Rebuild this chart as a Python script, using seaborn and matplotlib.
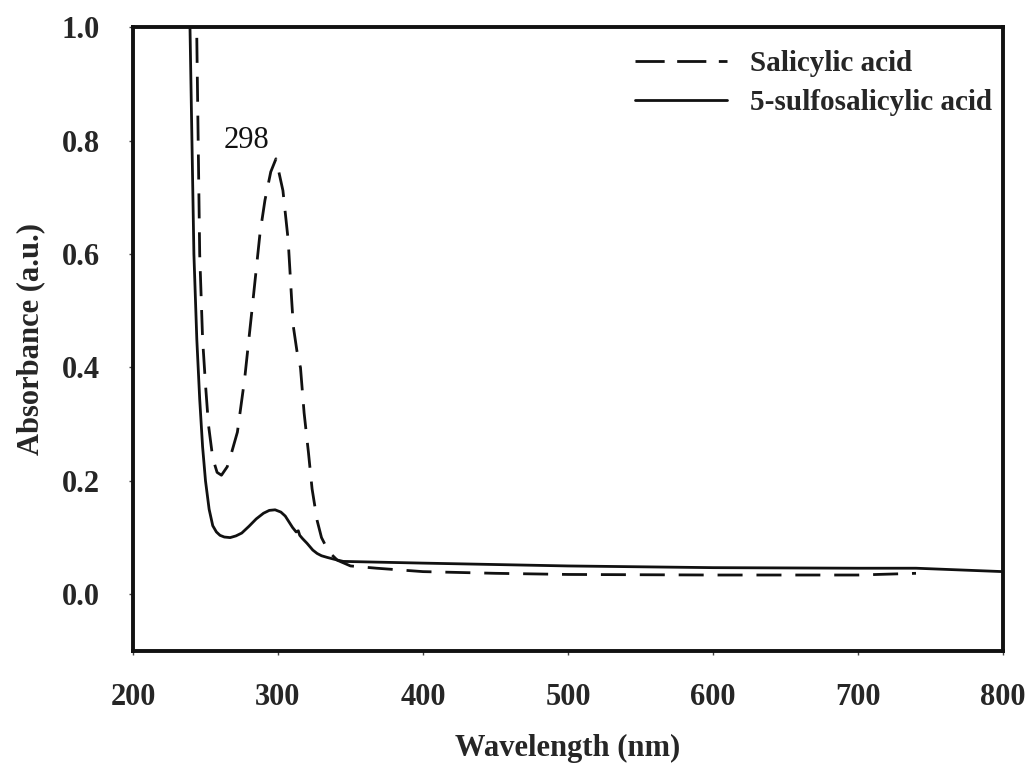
import matplotlib
matplotlib.use("Agg")
import matplotlib.pyplot as plt
from matplotlib.lines import Line2D
import seaborn as sns
import pandas as pd

sns.set_theme(style="white")
plt.rcParams['font.family'] = ['Liberation Serif', 'DejaVu Serif']

# Salicylic acid (dashed)
sal_x = [239, 243.9, 246, 248, 250, 252, 255, 258, 261, 265, 268, 272, 277, 282, 287.6,
         291, 295, 298.6, 303.4, 307, 309.4, 310.6, 313, 314.5, 315.5, 318, 321, 323.5, 327,
         330, 335, 341, 350, 368, 400, 450, 500, 600, 700, 740]
sal_y = [1.3, 1.0, 0.6, 0.45, 0.37, 0.3, 0.24, 0.215, 0.21, 0.225, 0.25, 0.286, 0.38, 0.50, 0.637,
         0.695, 0.745, 0.768, 0.712, 0.625, 0.52, 0.472, 0.43, 0.41, 0.40, 0.32, 0.25, 0.186, 0.13,
         0.10, 0.075, 0.06, 0.05, 0.046, 0.04, 0.037, 0.035, 0.034, 0.034, 0.037]

# 5-sulfosalicylic acid (solid)
ssa_x = [237, 239.3, 242, 244, 246, 248, 250, 252.5, 255, 257.5, 260, 263, 267, 271, 275, 280,
         285, 290, 294, 298, 302, 305, 308, 310, 312.5, 314, 315, 317, 320, 324, 327, 330, 334,
         340, 345, 400, 500, 600, 700, 740, 800]
ssa_y = [1.3, 1.0, 0.6, 0.45, 0.344, 0.26, 0.2, 0.15, 0.121, 0.11, 0.104, 0.101, 0.10, 0.103,
         0.108, 0.12, 0.133, 0.143, 0.148, 0.149, 0.145, 0.138, 0.126, 0.118, 0.11, 0.112, 0.104,
         0.098, 0.09, 0.078, 0.072, 0.068, 0.065, 0.061, 0.058, 0.055, 0.05, 0.047, 0.046, 0.046,
         0.04]

legend_labels = ["Salicylic acid", "5-sulfosalicylic acid"]
x_ticks = [200, 300, 400, 500, 600, 700, 800]
y_ticks = [0.0, 0.2, 0.4, 0.6, 0.8, 1.0]

df_sal = pd.DataFrame({"Wavelength": sal_x, "Absorbance": sal_y})
df_ssa = pd.DataFrame({"Wavelength": ssa_x, "Absorbance": ssa_y})

fig = plt.figure(figsize=(10.33, 7.79), dpi=100)
ax = fig.add_axes([133/1033, 1-651/779, (1003-133)/1033, (651-27.3)/779])

sns.lineplot(data=df_ssa, x="Wavelength", y="Absorbance", ax=ax, color="#111111",
             lw=2.0, estimator=None, sort=False)
sns.lineplot(data=df_sal, x="Wavelength", y="Absorbance", ax=ax, color="#111111",
             lw=2.0, estimator=None, sort=False)
ax.lines[-1].set_dashes((9, 5))

ax.set_xlim(200, 800)
ax.set_ylim(-0.1, 1.0)
ax.set_xticks(x_ticks)
ax.set_yticks(y_ticks)
ax.set_xticklabels([str(v) for v in x_ticks], fontsize=22, fontweight="bold")
ax.set_yticklabels([f"{v:.1f}" for v in y_ticks], fontsize=22, fontweight="bold")
ax.tick_params(axis="both", direction="out", length=3, width=1, color="#444444",
               bottom=True, left=True)
ax.tick_params(axis="x", pad=20)
ax.tick_params(axis="y", pad=21)
ax.set_xlabel("Wavelength (nm)", fontsize=22, fontweight="bold", labelpad=16)
ax.set_ylabel("Absorbance (a.u.)", fontsize=22, fontweight="bold", labelpad=12)
for s in ax.spines.values():
    s.set_linewidth(2.8)
    s.set_color("#111111")

ax.text(278.5, 0.80, "298", fontsize=22, ha="center", va="center", color="#111111")

handles = [Line2D([], [], color="#111111", lw=2.0, dashes=(10.5, 4.5)),
           Line2D([], [], color="#111111", lw=2.0)]
ax.legend(handles, legend_labels, loc="upper right", frameon=False,
          prop={"size": 21, "weight": "bold"}, handlelength=3.15, handletextpad=0.8,
          labelspacing=0.42, borderpad=0, borderaxespad=0,
          bbox_to_anchor=(992/1033, 1-50/779), bbox_transform=fig.transFigure)

fig.savefig("out.png", dpi=100, facecolor="white")
